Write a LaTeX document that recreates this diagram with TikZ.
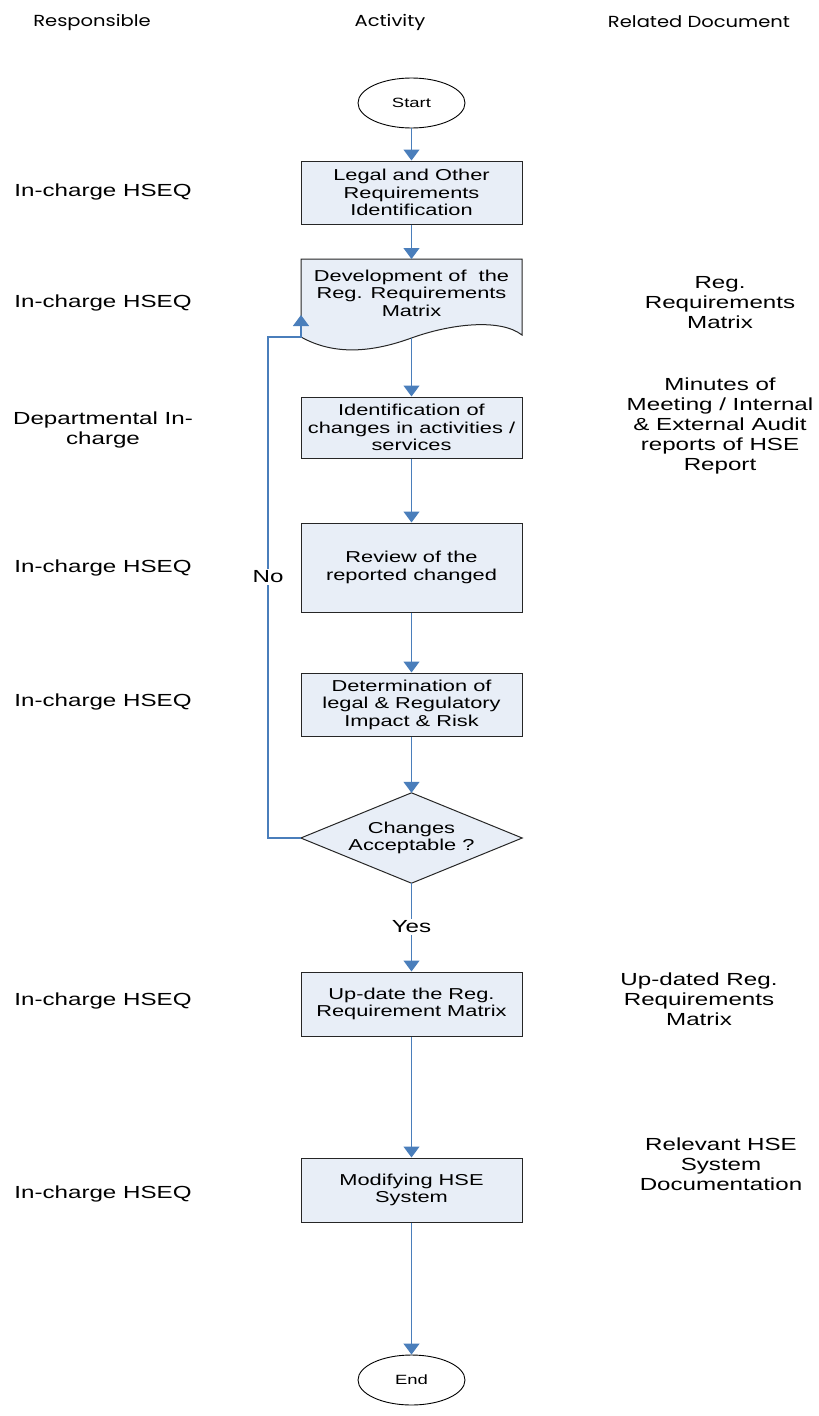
\documentclass[tikz,border=0pt]{standalone}
\usepackage{fontspec}
\setmainfont{Liberation Sans}[FakeStretch=1.38]
\newfontfamily\hdrfont{Poppins}[FakeStretch=1.22]
\usetikzlibrary{arrows.meta,shapes.geometric}
\definecolor{conn}{RGB}{74,126,187}
\definecolor{boxfill}{RGB}{232,238,247}
\tikzset{
 procbox/.style={draw=black!85, line width=1pt, fill=boxfill, minimum width=221pt, align=center, inner sep=0pt, font=\fontsize{15.8}{17.5}\selectfont},
 shapeline/.style={draw=black!85, line width=1pt, fill=boxfill},
 termnode/.style={ellipse, draw=black, line width=0.9pt, fill=white, minimum width=107pt, minimum height=50pt, inner sep=0pt, font=\fontsize{13.4}{15}\selectfont},
 lbl/.style={align=center, font=\fontsize{17.5}{20}\selectfont, inner sep=0pt},
 hdr/.style={font=\hdrfont\fontsize{16}{19}\selectfont, inner sep=0pt},
 flow/.style={draw=conn, line width=1.2pt, -{Triangle[width=16pt,length=11pt]}},
 cutlbl/.style={lbl, fill=white, inner sep=2pt}
}
\begin{document}
\begin{tikzpicture}[x=1pt,y=-1pt]
\useasboundingbox (0,0) rectangle (819,1416);

% headers
\node[hdr] (h1) at (92,22) {Responsible};
\node[hdr] (h2) at (390,22) {Activity};
\node[hdr] (h3) at (699,22) {Related Document};

% activity column
\node[termnode] (start) at (411.5,103) {Start};
\node[procbox, minimum height=63pt] (b1) at (411.5,192.5) {Legal and Other\\Requirements\\Identification};

\draw[shapeline] (301,259) -- (522,259) -- (522,335)
  .. controls (500,318) and (450,324) .. (411.5,338)
  .. controls (373,352) and (335,356) .. (301,337) -- cycle;
\node[align=center, inner sep=0pt, font=\fontsize{15.8}{17.5}\selectfont] (doc) at (411.5,293) {Development of \ the\\Reg. Requirements\\Matrix};
\coordinate (docb) at (411.5,338);

\node[procbox, minimum height=61pt] (b3) at (411.5,427.5) {Identification of\\changes in activities /\\services};
\node[procbox, minimum height=89pt] (b4) at (411.5,567.5) {Review of the\\reported changed};
\node[procbox, minimum height=63pt] (b5) at (411.5,704.5) {Determination of\\legal \& Regulatory\\Impact \& Risk};

\node[minimum width=221pt, minimum height=90pt, inner sep=0pt] (dia) at (411.5,838) {};
\draw[shapeline] (dia.north) -- (dia.east) -- (dia.south) -- (dia.west) -- cycle;
\node[align=center, inner sep=0pt, font=\fontsize{15.8}{17.5}\selectfont] (diatext) at (dia.center) {Changes\\Acceptable ?};

\node[procbox, minimum height=64pt] (b6) at (411.5,1004) {Up-date the Reg.\\Requirement Matrix};
\node[procbox, minimum height=64pt] (b7) at (411.5,1190) {Modifying HSE\\System};
\node[termnode] (end) at (411.5,1380) {End};

% connectors
\draw[flow] (start) -- (b1);
\draw[flow] (b1) -- (b1 |- 0,259);
\draw[flow] (docb) -- (b3);
\draw[flow] (b3) -- (b4);
\draw[flow] (b4) -- (b5);
\draw[flow] (b5) -- (dia.north);
\draw[flow] (dia.south) -- (b6);
\draw[flow] (b6) -- (b7);
\draw[flow] (b7) -- (end);

\coordinate (lpc) at (268,337);
\coordinate (lpd) at (301,337);
\coordinate (lpe) at (301,315);
\draw[flow] (dia.west) -| (lpc) -- (lpd) -- (lpe);

\node[cutlbl] (no) at (268,577) {No};
\node[cutlbl] (yes) at (411.5,927) {Yes};

% responsible column
\node[lbl] (r1) at (103,192) {In-charge HSEQ};
\node[lbl] (r2) at (103,303) {In-charge HSEQ};
\node[lbl] (r3) at (103,430) {Departmental In-\\charge};
\node[lbl] (r4) at (103,568) {In-charge HSEQ};
\node[lbl] (r5) at (103,702) {In-charge HSEQ};
\node[lbl] (r6) at (103,1001) {In-charge HSEQ};
\node[lbl] (r7) at (103,1194) {In-charge HSEQ};

% related document column
\node[lbl] (d1) at (720,303) {Reg.\\Requirements\\Matrix};
\node[lbl] (d2) at (720,426) {Minutes of\\Meeting / Internal\\\& External Audit\\reports of HSE\\Report};
\node[lbl] (d3) at (699,999) {Up-dated Reg.\\Requirements\\Matrix};
\node[lbl] (d4) at (721,1164) {Relevant HSE\\System\\Documentation};
\end{tikzpicture}
\end{document}
